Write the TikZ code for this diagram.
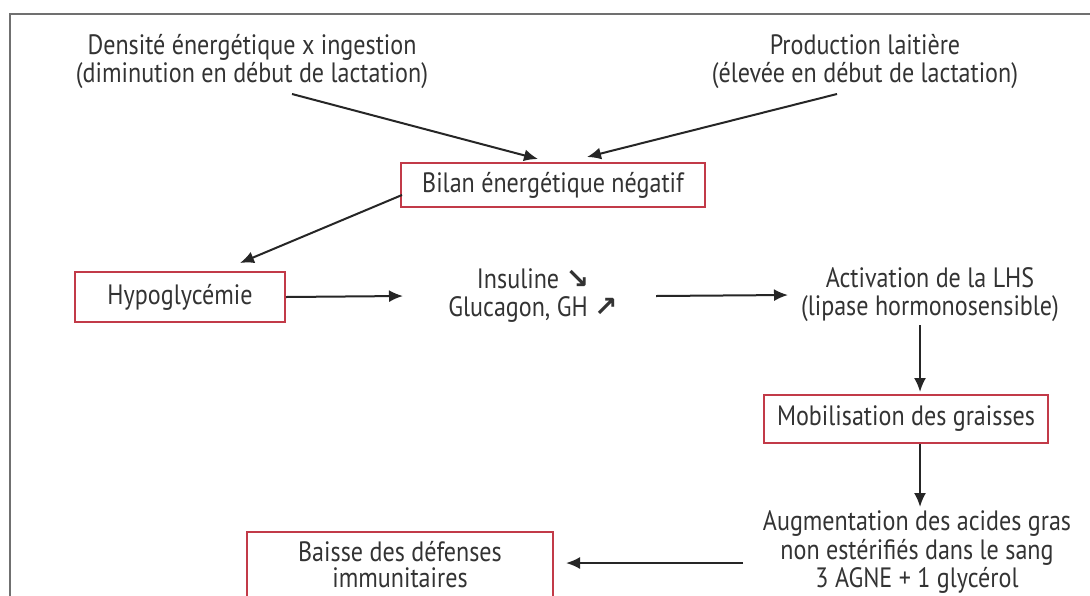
\documentclass[tikz,border=0pt]{standalone}
\usepackage{fontspec}
\setmainfont[FakeStretch=0.86]{PT Sans}
\newfontfamily\symfont{DejaVu Sans}
\usetikzlibrary{arrows.meta,calc}
\definecolor{boxred}{HTML}{C23A48}
\definecolor{framegray}{HTML}{707070}
\tikzset{
  lbl/.style={align=center,font=\fontsize{14}{14}\selectfont,text=black!80,inner sep=0pt},
  rbox/.style={draw=boxred,line width=1pt,minimum height=22pt,align=center,font=\fontsize{14}{14}\selectfont,text=black!80,inner sep=0pt},
  arr/.style={line width=1pt,-{Latex[length=7pt,width=6pt]},black!85}
}
\newcommand{\dn}{{\symfont\bfseries\fontsize{14}{14}\selectfont\char"2198}}
\newcommand{\up}{{\symfont\bfseries\fontsize{14}{14}\selectfont\char"2197}}
\begin{document}
\begin{tikzpicture}[x=0.5pt,y=-0.5pt]
\useasboundingbox (0,0) rectangle (1090,595);
\fill[white] (0,0) rectangle (1090,595);
\draw[framegray,line width=1pt] (10,600) -- (10,14) -- (1095,14);
\node[lbl] (dens) at (252,61) {Densité énergétique x ingestion\\(diminution en début de lactation)};
\node[lbl] (prod) at (865,61) {Production laitière\\(élevée en début de lactation)};
\node[rbox,minimum width=152pt] (bilan) at (553,185) {Bilan énergétique négatif};
\node[rbox,minimum width=105pt,minimum height=25pt] (hypo) at (180,297) {Hypoglycémie};
\node[lbl] (horm) at (533,296) {Insuline \dn\\Glucagon, GH \up};
\node[lbl] (lhs) at (930,295) {Activation de la LHS\\(lipase hormonosensible)};
\node[rbox,minimum width=142pt,minimum height=24pt] (mob) at (906,419) {Mobilisation des graisses};
\node[lbl,font=\fontsize{14}{12.3}\selectfont] (agne) at (917,552) {Augmentation des acides gras\\non estérifiés dans le sang\\3 AGNE + 1 glycérol};
\begin{scope}
\clip (0,0) rectangle (1090,595);
\draw[boxred,line width=1pt] (247,640) -- (247,532) -- (553,532) -- (553,640);
\end{scope}
\node[lbl,font=\fontsize{14}{13}\selectfont] (baisse) at (400,565) {Baisse des défenses\\immunitaires};
\coordinate (bx) at (566,563);
\draw[arr] ($(dens.center)+(40,33)$) -- ($(bilan.north)+(-15,-3)$);
\draw[arr] ($(prod.center)+(-28,33)$) -- ($(bilan.north)+(34,-5)$);
\draw[arr] ($(bilan.west)+(2,10)$) -- ($(hypo.north)+(60,-8)$);
\draw[arr] (hypo.east) -- ($(horm.center)+(-130,0)$);
\draw[arr] ($(horm.center)+(123,0)$) -- ($(lhs.center)+(-142,0)$);
\draw[arr] ($(lhs.center)+(-10,30)$) -- ($(mob.north)+(14,-2)$);
\draw[arr] ($(mob.south)+(14,0)$) -- ($(agne.center)+(3,-45)$);
\draw[arr] ($(agne.center)+(-174,11)$) -- (bx);
\end{tikzpicture}
\end{document}
